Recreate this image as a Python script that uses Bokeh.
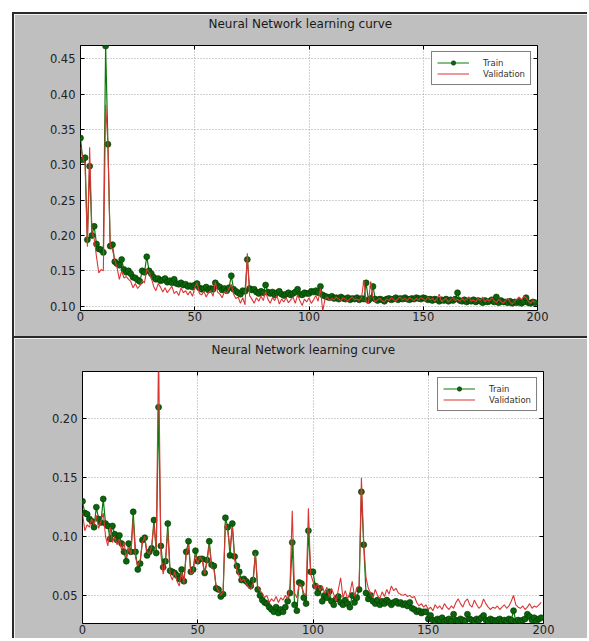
from bokeh.plotting import figure
from bokeh.layouts import column, row
from bokeh.models import (Range1d, FixedTicker, PrintfTickFormatter, Legend, LegendItem,
                          LinearAxis, Div)
from bokeh.embed import file_html
from bokeh.resources import INLINE

# ---------------- data ----------------
epochs = list(range(200))

top_train = [
    0.338, 0.307, 0.310, 0.194, 0.298, 0.200, 0.213, 0.188, 0.181, 0.180,
    0.176, 0.468, 0.329, 0.185, 0.187, 0.163, 0.160, 0.158, 0.166, 0.152,
    0.148, 0.150, 0.146, 0.141, 0.140, 0.137, 0.135, 0.150, 0.148, 0.170,
    0.150, 0.146, 0.141, 0.138, 0.139, 0.136, 0.137, 0.139, 0.134, 0.136,
    0.133, 0.138, 0.132, 0.131, 0.133, 0.130, 0.131, 0.128, 0.129, 0.127,
    0.130, 0.132, 0.126, 0.124, 0.125, 0.127, 0.123, 0.125, 0.124, 0.133,
    0.129, 0.127, 0.123, 0.125, 0.122, 0.126, 0.143, 0.124, 0.121, 0.119,
    0.117, 0.122, 0.121, 0.166, 0.125, 0.123, 0.124, 0.120, 0.118, 0.121,
    0.119, 0.130, 0.120, 0.118, 0.120, 0.116, 0.119, 0.121, 0.117, 0.115,
    0.117, 0.119, 0.116, 0.118, 0.120, 0.124, 0.117, 0.116, 0.119, 0.118,
    0.118, 0.121, 0.120, 0.122, 0.119, 0.128, 0.116, 0.114, 0.113, 0.112,
    0.114, 0.111, 0.112, 0.110, 0.113, 0.111, 0.110, 0.112, 0.109, 0.111,
    0.110, 0.112, 0.109, 0.111, 0.110, 0.133, 0.108, 0.111, 0.128, 0.110,
    0.108, 0.110, 0.109, 0.107, 0.110, 0.111, 0.109, 0.110, 0.112, 0.109,
    0.111, 0.110, 0.112, 0.110, 0.109, 0.111, 0.110, 0.112, 0.111, 0.110,
    0.112, 0.111, 0.109, 0.110, 0.108, 0.110, 0.109, 0.107, 0.109, 0.108,
    0.110, 0.107, 0.109, 0.108, 0.110, 0.119, 0.108, 0.107, 0.109, 0.106,
    0.108, 0.107, 0.109, 0.106, 0.108, 0.107, 0.105, 0.108, 0.106, 0.107,
    0.109, 0.106, 0.113, 0.105, 0.108, 0.106, 0.106, 0.105, 0.107, 0.104,
    0.106, 0.105, 0.107, 0.104, 0.106, 0.112, 0.105, 0.104, 0.106, 0.105,
]

top_val = [
    0.325, 0.310, 0.300, 0.184, 0.325, 0.205, 0.195, 0.170, 0.147, 0.152,
    0.150, 0.385, 0.330, 0.185, 0.180, 0.165, 0.155, 0.138, 0.150, 0.140,
    0.142, 0.138, 0.135, 0.126, 0.132, 0.125, 0.129, 0.136, 0.133, 0.152,
    0.148, 0.140, 0.128, 0.122, 0.132, 0.127, 0.120, 0.126, 0.119, 0.124,
    0.128, 0.118, 0.121, 0.115, 0.126, 0.119, 0.122, 0.116, 0.121, 0.114,
    0.126, 0.133, 0.118, 0.116, 0.121, 0.113, 0.119, 0.122, 0.114, 0.134,
    0.120, 0.117, 0.112, 0.121, 0.118, 0.125, 0.131, 0.117, 0.111, 0.113,
    0.104, 0.112, 0.102, 0.175, 0.115, 0.110, 0.104, 0.112, 0.107, 0.114,
    0.108, 0.121, 0.110, 0.104, 0.112, 0.108, 0.115, 0.103, 0.110, 0.106,
    0.112, 0.105, 0.109, 0.113, 0.104, 0.116, 0.108, 0.101, 0.110, 0.106,
    0.112, 0.104, 0.109, 0.115, 0.107, 0.125, 0.093, 0.110, 0.113, 0.108,
    0.111, 0.109, 0.113, 0.110, 0.108, 0.112, 0.110, 0.107, 0.111, 0.113,
    0.109, 0.110, 0.108, 0.112, 0.137, 0.106, 0.104, 0.135, 0.112, 0.106,
    0.109, 0.111, 0.108, 0.106, 0.110, 0.108, 0.112, 0.110, 0.107, 0.111,
    0.113, 0.109, 0.111, 0.108, 0.112, 0.110, 0.108, 0.111, 0.109, 0.112,
    0.110, 0.108, 0.113, 0.109, 0.111, 0.107, 0.110, 0.117, 0.106, 0.109,
    0.111, 0.106, 0.109, 0.112, 0.108, 0.110, 0.107, 0.111, 0.108, 0.110,
    0.113, 0.107, 0.109, 0.106, 0.111, 0.108, 0.113, 0.106, 0.110, 0.107,
    0.112, 0.108, 0.105, 0.110, 0.107, 0.104, 0.108, 0.111, 0.106, 0.103,
    0.107, 0.110, 0.113, 0.109, 0.114, 0.112, 0.107, 0.104, 0.108, 0.106,
]

bottom_train = [
    0.130, 0.120, 0.119, 0.115, 0.113, 0.108, 0.125, 0.115, 0.112, 0.132,
    0.111, 0.109, 0.098, 0.109, 0.102, 0.097, 0.101, 0.094, 0.087, 0.079,
    0.094, 0.087, 0.121, 0.087, 0.072, 0.077, 0.097, 0.099, 0.084, 0.087,
    0.090, 0.114, 0.086, 0.210, 0.092, 0.074, 0.079, 0.111, 0.071, 0.070,
    0.069, 0.067, 0.064, 0.072, 0.062, 0.087, 0.096, 0.070, 0.072, 0.088,
    0.079, 0.081, 0.081, 0.069, 0.080, 0.096, 0.076, 0.075, 0.056, 0.055,
    0.049, 0.051, 0.116, 0.108, 0.084, 0.111, 0.083, 0.075, 0.070, 0.063,
    0.064, 0.062, 0.060, 0.058, 0.063, 0.086, 0.055, 0.050, 0.046, 0.044,
    0.043, 0.040, 0.038, 0.036, 0.040, 0.035, 0.038, 0.036, 0.040, 0.045,
    0.052, 0.095, 0.042, 0.037, 0.061, 0.060, 0.048, 0.043, 0.105, 0.070,
    0.070, 0.058, 0.052, 0.056, 0.045, 0.050, 0.048, 0.053, 0.045, 0.042,
    0.047, 0.049, 0.044, 0.042, 0.046, 0.043, 0.040, 0.050, 0.044, 0.048,
    0.055, 0.138, 0.093, 0.052, 0.047, 0.050, 0.045, 0.043, 0.046, 0.042,
    0.045, 0.043, 0.046, 0.044, 0.042, 0.044, 0.045, 0.043, 0.044, 0.042,
    0.043, 0.041, 0.044, 0.039, 0.038, 0.036, 0.037, 0.035, 0.036, 0.036,
    0.030, 0.033, 0.029, 0.028, 0.030, 0.029, 0.031, 0.028, 0.029, 0.030,
    0.028, 0.034, 0.029, 0.028, 0.030, 0.029, 0.028, 0.034, 0.030, 0.029,
    0.028, 0.030, 0.029, 0.031, 0.033, 0.029, 0.028, 0.030, 0.029, 0.028,
    0.029, 0.030, 0.028, 0.029, 0.028, 0.030, 0.029, 0.037, 0.028, 0.029,
    0.028, 0.029, 0.030, 0.034, 0.032, 0.029, 0.031, 0.028, 0.030, 0.031,
]

bottom_val = [
    0.120, 0.105, 0.110, 0.108, 0.115, 0.110, 0.118, 0.107, 0.113, 0.120,
    0.100, 0.092, 0.108, 0.095, 0.100, 0.093, 0.098, 0.088, 0.095, 0.082,
    0.090, 0.085, 0.115, 0.082, 0.075, 0.080, 0.095, 0.100, 0.087, 0.085,
    0.092, 0.110, 0.090, 0.260, 0.085, 0.068, 0.078, 0.105, 0.068, 0.063,
    0.070, 0.062, 0.058, 0.070, 0.060, 0.085, 0.093, 0.068, 0.070, 0.085,
    0.077, 0.083, 0.079, 0.068, 0.078, 0.093, 0.073, 0.072, 0.058, 0.054,
    0.050, 0.053, 0.112, 0.105, 0.090, 0.108, 0.080, 0.072, 0.066, 0.062,
    0.064, 0.060, 0.057, 0.055, 0.060, 0.086, 0.058, 0.054, 0.052, 0.048,
    0.050, 0.044, 0.047, 0.045, 0.049, 0.044, 0.048, 0.046, 0.050, 0.047,
    0.058, 0.122, 0.052, 0.048, 0.060, 0.058, 0.052, 0.050, 0.124, 0.068,
    0.062, 0.055, 0.060, 0.054, 0.058, 0.052, 0.057, 0.049, 0.056, 0.051,
    0.045, 0.055, 0.065, 0.048, 0.054, 0.047, 0.052, 0.062, 0.049, 0.056,
    0.058, 0.150, 0.095, 0.065, 0.056, 0.052, 0.048, 0.055, 0.050, 0.047,
    0.053, 0.049, 0.055, 0.051, 0.058, 0.054, 0.056, 0.052, 0.051, 0.050,
    0.051, 0.049, 0.050, 0.048, 0.049, 0.044, 0.041, 0.043, 0.040, 0.042,
    0.038, 0.040, 0.037, 0.042, 0.039, 0.041, 0.038, 0.043, 0.040, 0.038,
    0.041, 0.039, 0.044, 0.047, 0.043, 0.040, 0.045, 0.047, 0.042, 0.040,
    0.046, 0.042, 0.039, 0.041, 0.047, 0.043, 0.040, 0.038, 0.040, 0.039,
    0.041, 0.038, 0.040, 0.042, 0.039, 0.041, 0.045, 0.050, 0.042, 0.040,
    0.039, 0.041, 0.038, 0.040, 0.043, 0.039, 0.041, 0.040, 0.042, 0.044,
]

x_ticks = [0, 50, 100, 150, 200]
top_y_ticks = [0.10, 0.15, 0.20, 0.25, 0.30, 0.35, 0.40, 0.45]
bottom_y_ticks = [0.05, 0.10, 0.15, 0.20]
title_text = "Neural Network learning curve"
series_names = ["Train", "Validation"]

# ---------------- styling ----------------
FONT = "DejaVu Sans"
PANEL_BG = "#bfbfbf"
EDGE = "#2a2a2a"
GREEN = "#0a7a0a"
MARKER = "#0b650b"
RED = "#dc3535"
FIG_W = 573


def style_axis(ax):
    ax.axis_line_color = None
    ax.major_tick_in = 4
    ax.major_tick_out = 0
    ax.major_tick_line_color = "black"
    ax.minor_tick_line_color = None
    ax.major_label_text_font = FONT
    ax.major_label_text_font_size = "11.5px"
    ax.major_label_text_color = "#222222"


def make_panel(train, val, y_range, y_ticks, height, borders, title_offset):
    left, right, top, bottom = borders
    p = figure(
        width=FIG_W, height=height,
        x_range=Range1d(0, 200), y_range=Range1d(*y_range),
        output_backend="svg", toolbar_location=None,
        min_border_left=left, min_border_right=right,
        min_border_top=top, min_border_bottom=bottom,
        border_fill_color=PANEL_BG, background_fill_color="white",
        outline_line_color="black", outline_line_width=1,
        margin=0,
    )
    p.title.text = title_text
    p.title.align = "left"
    p.title.offset = title_offset
    p.title.standoff = 0
    p.title.text_font = FONT
    p.title.text_font_size = "12px"
    p.title.text_font_style = "normal"
    p.title.text_color = "#1a1a1a"

    style_axis(p.xaxis[0])
    style_axis(p.yaxis[0])
    p.xaxis[0].ticker = FixedTicker(ticks=x_ticks)
    p.xaxis[0].formatter = PrintfTickFormatter(format="%d")
    p.xaxis[0].major_label_standoff = 1
    p.yaxis[0].ticker = FixedTicker(ticks=y_ticks)
    p.yaxis[0].formatter = PrintfTickFormatter(format="%.2f")
    p.yaxis[0].major_label_standoff = 5

    # unlabeled tick axes on top and right (classic style); the top one
    # also keeps the title a little away from the frame
    top_ax = LinearAxis(ticker=FixedTicker(ticks=x_ticks),
                        major_label_overrides={t: " " for t in x_ticks})
    style_axis(top_ax)
    top_ax.major_label_text_font_size = "1px"
    top_ax.major_label_standoff = 11
    p.add_layout(top_ax, "above")
    right_ax = LinearAxis(ticker=FixedTicker(ticks=y_ticks),
                          major_label_overrides={t: " " for t in y_ticks})
    style_axis(right_ax)
    right_ax.major_label_text_font_size = "1px"
    right_ax.major_label_standoff = 0
    p.add_layout(right_ax, "right")

    p.grid.grid_line_color = "#9a9a9a"
    p.grid.grid_line_dash = "1 2"
    p.grid.grid_line_width = 1
    p.grid.grid_line_alpha = 0.9

    tl = p.line(epochs, train, line_color=GREEN, line_width=1.2)
    ts = p.scatter(epochs, train, size=6, fill_color=MARKER, line_color="#033803", line_width=0.6)
    vl = p.line(epochs, val, line_color=RED, line_width=1.1)

    legend = Legend(
        items=[LegendItem(label=series_names[0], renderers=[tl, ts]),
               LegendItem(label=series_names[1], renderers=[vl])],
        location="top_right",
        margin=6, padding=5, spacing=0,
        glyph_width=32, glyph_height=11, label_height=11,
        label_standoff=14,
        label_text_font=FONT, label_text_font_size="8.5px", label_text_color="#333333",
        border_line_color="black", border_line_width=1,
        background_fill_color="white", background_fill_alpha=1.0,
    )
    p.add_layout(legend)
    return p


p1 = make_panel(top_train, top_val, (0.0939, 0.4688), top_y_ticks, 322,
                (66, 50, 31, 26), 128)
p2 = make_panel(bottom_train, bottom_val, (0.0261, 0.2403), bottom_y_ticks, 300,
                (68, 44, 33, 15), 129)


def edge(w, h):
    return Div(width=w, height=h, margin=0, styles={"background-color": EDGE})


stack = column(edge(FIG_W, 2), row(p1, margin=0), edge(FIG_W, 2), row(p2, margin=0),
               spacing=0, margin=0)
layout = row(edge(2, 2 + 322 + 2 + 300), stack, spacing=0, margin=(12, 0, 0, 12))

open("out.html", "w").write(file_html(layout, INLINE))
